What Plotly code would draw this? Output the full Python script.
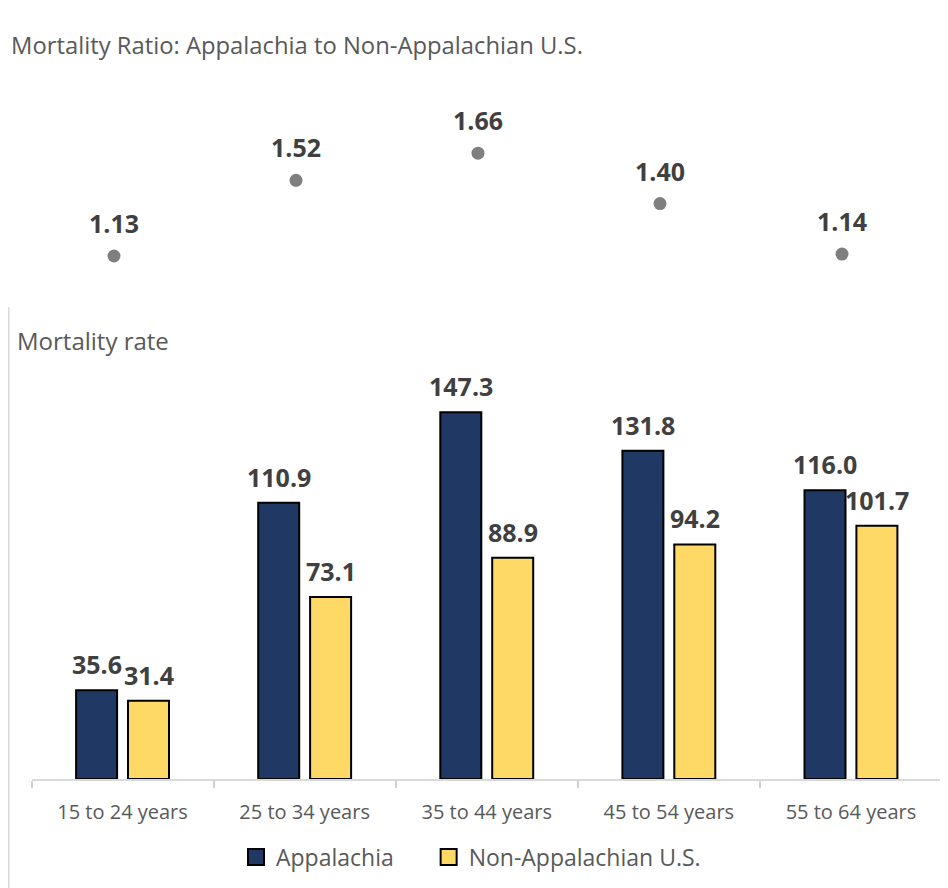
import plotly.graph_objects as go

categories = ["15 to 24 years", "25 to 34 years", "35 to 44 years", "45 to 54 years", "55 to 64 years"]
appalachia = [35.6, 110.9, 147.3, 131.8, 116.0]
non_appalachia = [31.4, 73.1, 88.9, 94.2, 101.7]
ratio = [1.13, 1.52, 1.66, 1.40, 1.14]
series_names = ["Appalachia", "Non-Appalachian U.S."]
series_colors = ["#1F3864", "#FFD966"]

# page has an 8px body margin; work in page pixels and convert
OFF = 8
W, H = 940, 880
def px(x):
    return (x - OFF) / W
def py(y):
    return (H - (y - OFF)) / H

FONT = "Open Sans"
GRAY = "#595959"
DARK = "#404040"

fig = go.Figure()

for name, vals, col in zip(series_names, [appalachia, non_appalachia], series_colors):
    fig.add_trace(go.Bar(
        x=categories, y=vals, name=name, showlegend=False,
        marker=dict(color=col, line=dict(color="#000000", width=2)),
        xaxis="x", yaxis="y",
    ))
# legend entries (square swatches)
legend_pad = ["\u00a0" * 5, ""]
for name, col, pad in zip(series_names, series_colors, legend_pad):
    fig.add_trace(go.Scatter(
        x=[None], y=[None], name=name + pad, mode="markers",
        marker=dict(symbol="square", color=col, size=16, line=dict(color="#000000", width=2)),
        xaxis="x", yaxis="y",
    ))

fig.add_trace(go.Scatter(
    x=categories, y=ratio, mode="markers", showlegend=False,
    marker=dict(color="#7F7F7F", size=13),
    xaxis="x2", yaxis="y2",
))

LBL = dict(family=FONT, size=25, color=DARK, weight="bold")
annotations = []
for c, a, n in zip(categories, appalachia, non_appalachia):
    annotations.append(dict(x=c, y=a, xref="x", yref="y", text=f"{a:.1f}", showarrow=False,
                            xshift=-26, yshift=26, yanchor="middle", font=LBL))
    annotations.append(dict(x=c, y=n, xref="x", yref="y", text=f"{n:.1f}", showarrow=False,
                            xshift=26, yshift=26, yanchor="middle", font=LBL))
for c, r in zip(categories, ratio):
    annotations.append(dict(x=c, y=r, xref="x2", yref="y2", text=f"{r:.2f}", showarrow=False,
                            yshift=33, yanchor="middle", font=LBL))

annotations.append(dict(x=px(9), y=py(45), xref="paper", yref="paper", xanchor="left", yanchor="middle",
                        text="Mortality Ratio: Appalachia to Non-Appalachian U.S.", showarrow=False,
                        font=dict(family=FONT, size=23.8, color=GRAY)))
annotations.append(dict(x=px(15), y=py(340), xref="paper", yref="paper", xanchor="left", yanchor="middle",
                        text="Mortality rate", showarrow=False,
                        font=dict(family=FONT, size=24, color=GRAY)))

shapes = [
    dict(type="line", xref="paper", yref="paper", x0=px(8.8), x1=px(8.8), y0=py(307), y1=0,
         line=dict(color="#D9D9D9", width=1.5)),
]

ybot_px = 779
scale = 2.49

fig.update_layout(
    width=W, height=H,
    margin=dict(l=0, r=0, t=0, b=0),
    paper_bgcolor="white", plot_bgcolor="white",
    barmode="group", bargap=0.43, bargroupgap=0.21,
    font=dict(family=FONT, color=GRAY),
    xaxis=dict(domain=[px(31.5), px(942)], showline=True, linecolor="#D9D9D9", linewidth=1.5,
               ticks="outside", tickson="boundaries", ticklen=7, tickcolor="#D0D0D0", tickwidth=1.5,
               tickfont=dict(family=FONT, size=20, color=GRAY), ticklabelstandoff=14,
               range=[-0.5, 4.5], showgrid=False, zeroline=False, fixedrange=True),
    yaxis=dict(domain=[py(ybot_px), py(360)], range=[0, (ybot_px - 360) / scale],
               visible=False, showgrid=False, zeroline=False),
    xaxis2=dict(domain=[px(23), px(933)], anchor="y2", range=[-0.5, 4.5],
                visible=False, showgrid=False),
    yaxis2=dict(domain=[py(290), py(100)], anchor="x2",
                range=[1.13 - 34 / 194, 1.13 + 156 / 194],
                visible=False, showgrid=False, zeroline=False),
    legend=dict(orientation="h", x=px(471), xanchor="center", y=py(857), yanchor="middle",
                font=dict(family=FONT, size=23, color=GRAY), itemwidth=30,
                traceorder="normal", itemsizing="trace"),
    annotations=annotations,
    shapes=shapes,
    showlegend=True,
)

fig.write_html("out.html")
